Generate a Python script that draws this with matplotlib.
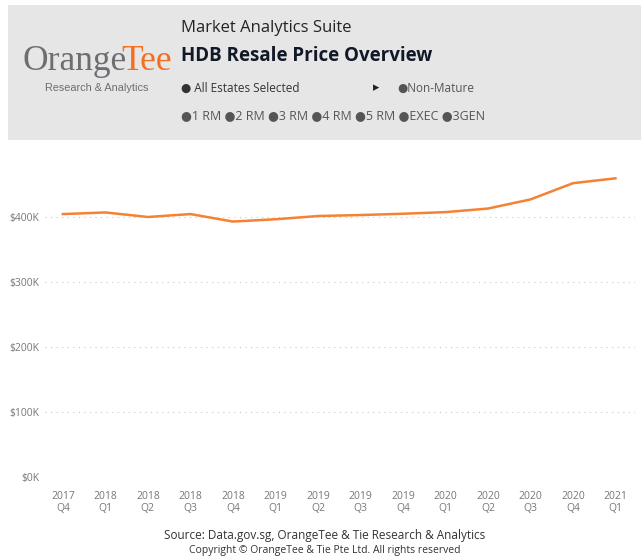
import matplotlib.pyplot as plt
from matplotlib.patches import Rectangle
from matplotlib.ticker import FuncFormatter

plt.rcParams['font.family'] = ['Open Sans', 'DejaVu Sans']

quarters = ["2017\nQ4", "2018\nQ1", "2018\nQ2", "2018\nQ3", "2018\nQ4", "2019\nQ1", "2019\nQ2",
            "2019\nQ3", "2019\nQ4", "2020\nQ1", "2020\nQ2", "2020\nQ3", "2020\nQ4", "2021\nQ1"]
# median resale price, thousands SGD
price_k = [404.5, 407, 400, 404.5, 393, 396.5, 401.5, 403, 405, 407.5, 413, 427, 452, 459.5]
y_ticks = [0, 100, 200, 300, 400]

fig = plt.figure(figsize=(6.41, 5.6), dpi=100)
W, H = 641, 560

# header box
fig.patches.append(Rectangle((8 / W, 1 - 140 / H), 633 / W, 135 / H, transform=fig.transFigure,
                             facecolor="#e6e6e6", edgecolor="none", zorder=0))

# logo: "Orange" grey + "Tee" orange, placed side by side
t1 = fig.text(22 / W, 1 - 61 / H, "Orange", fontsize=25.5, family="Liberation Serif",
              color="#6d6e71", va="center", ha="left")
renderer = fig.canvas.get_renderer()
bb = t1.get_window_extent(renderer)
fig.text((bb.x1 - 5) / W, 1 - 61 / H, "Tee", fontsize=25.5, family="Liberation Serif",
         color="#f26f21", va="center", ha="left")
fig.text(97 / W, 1 - 88 / H, "Research & Analytics", fontsize=7.8, color="#6d6e71",
         family="Liberation Sans", va="center", ha="center")

fig.text(181 / W, 1 - 28 / H, "Market Analytics Suite", fontsize=12, color="#252423",
         va="center", ha="left")
fig.text(181 / W, 1 - 56 / H, "HDB Resale Price Overview", fontsize=13.5, weight="bold",
         color="#111827", va="center", ha="left")
fig.text(181 / W, 1 - 88 / H, "● All Estates Selected", fontsize=8.5, color="#333333",
         va="center", ha="left")
fig.text(373 / W, 1 - 88 / H, "▸", fontsize=9, color="#222222", va="center", ha="left",
         family=["DejaVu Sans"])
fig.text(397 / W, 1 - 88 / H, "●Non-Mature", fontsize=8.5, color="#555555", va="center",
         ha="left")
fig.text(181 / W, 1 - 116 / H, "●1 RM ●2 RM ●3 RM ●4 RM ●5 RM ●EXEC ●3GEN", fontsize=9,
         color="#555555", va="center", ha="left")

ax = fig.add_axes([45 / W, 1 - 477 / H, 590 / W, 325 / H])
x = list(range(len(quarters)))
ax.plot(x, price_k, color="#f58232", lw=1.8, solid_joinstyle="round")
ax.set_xlim(-0.42, 13.46)
ax.set_ylim(0, 500)
ax.set_yticks(y_ticks)
ax.yaxis.set_major_formatter(FuncFormatter(lambda v, p: f"${int(v)}K"))
ax.set_xticks(x)
ax.set_xticklabels(quarters)
ax.grid(axis="y", linestyle=(0, (1, 4)), color="#c8c8c8", lw=0.8)
ax.tick_params(length=0, labelsize=7.5, labelcolor="#777777")
ax.tick_params(axis="x", pad=10)
ax.tick_params(axis="y", pad=4)
for s in ax.spines.values():
    s.set_visible(False)

fig.text(325 / W, 1 - 536 / H, "Source: Data.gov.sg, OrangeTee & Tie Research & Analytics",
         fontsize=8.5, color="#333333", ha="center", va="center")
fig.text(325 / W, 1 - 551 / H, "Copyright © OrangeTee & Tie Pte Ltd. All rights reserved",
         fontsize=7.5, color="#333333", ha="center", va="center")

fig.savefig("out.png", dpi=100)
